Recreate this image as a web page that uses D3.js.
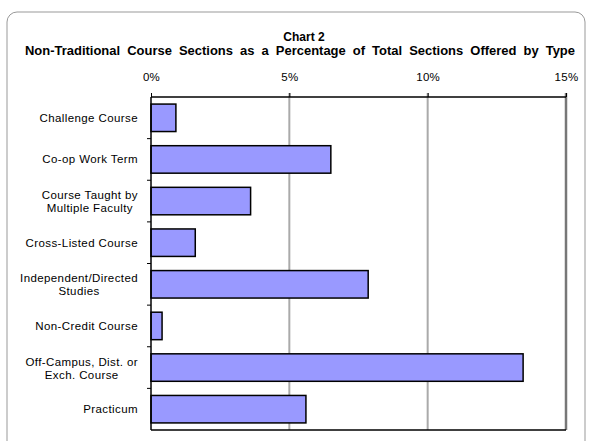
<!DOCTYPE html>
<html>
<head>
<meta charset="utf-8">
<script src="https://cdn.jsdelivr.net/npm/d3@7"></script>
<style>
	body { margin: 0; background: #fff; }
	text { font-family: "Liberation Sans", Arial, sans-serif; fill: #000; }
</style>
</head>
<body>
<div id="container"></div>
<script>
// data
var categories = [
	["Challenge Course"],
	["Co-op Work Term"],
	["Course Taught by", "Multiple Faculty"],
	["Cross-Listed Course"],
	["Independent/Directed", "Studies"],
	["Non-Credit Course"],
	["Off-Campus, Dist. or", "Exch. Course"],
	["Practicum"]
];
var percentValues = [0.9, 6.5, 3.6, 1.6, 7.85, 0.4, 13.45, 5.6];
var tickValues = [0, 5, 10, 15];
var titleLines = ["Chart 2", "Non-Traditional Course Sections as a Percentage of Total Sections Offered by Type"];

(function()
{
	var width = 590, height = 441;
	var left = 151, right = 566, top = 97, bottom = 430;
	var labelRight = 138;

	var svg = d3.select("#container").append("svg")
		.attr("width", width)
		.attr("height", height);

	// chart area border
	svg.append("rect")
		.attr("x", 7).attr("y", 12)
		.attr("width", 578).attr("height", 440)
		.attr("rx", 10).attr("ry", 10)
		.attr("fill", "none")
		.style("stroke", "#999")
		.style("stroke-width", "1px");

	var x = d3.scaleLinear().domain([0, 15]).range([left, right]);
	var y = d3.scaleBand()
		.domain(d3.range(categories.length))
		.range([top, bottom])
		.paddingInner(0.34)
		.paddingOuter(0.17);
	var band = (bottom - top) / categories.length;

	// titles
	svg.append("text")
		.attr("x", 304).attr("y", 41)
		.attr("text-anchor", "middle")
		.style("font-size", "12px").style("font-weight", "bold")
		.text(titleLines[0]);
	var sub = svg.append("text")
		.attr("x", 300).attr("y", 55)
		.attr("text-anchor", "middle")
		.style("font-size", "12px").style("font-weight", "bold")
		.text(titleLines[1]);
	// grow the font, then spread the words out to the width of the original line
	var gaps = titleLines[1].split(" ").length - 1;
	var natural = sub.node().getComputedTextLength();
	var subSize = 12 * 512 / natural;
	sub.style("font-size", subSize + "px");
	natural = sub.node().getComputedTextLength();
	sub.style("word-spacing", Math.max(0, (550 - natural) / gaps) + "px");

	// gridlines
	svg.selectAll(".grid")
		.data(tickValues.slice(1))
		.enter().append("line")
		.attr("x1", function(d) { return x(d); })
		.attr("x2", function(d) { return x(d); })
		.attr("y1", top - 4)
		.attr("y2", bottom)
		.style("stroke", function(d) { return d == 15 ? "#777" : "#aaa"; })
		.style("stroke-width", function(d) { return d == 15 ? "2.5px" : "2px"; });

	// top axis
	var axis = svg.append("g")
		.attr("transform", "translate(0," + top + ")")
		.call(d3.axisTop(x).tickValues(tickValues).tickSize(4).tickPadding(12)
			.tickFormat(function(d) { return d + "%"; }));
	axis.select(".domain").remove();
	axis.selectAll("text").style("font-size", "11.5px").style("letter-spacing", "0.3px")
		.style("font-family", "Liberation Sans, Arial, sans-serif");
	axis.selectAll("line").style("stroke", "#000");

	// plot frame
	svg.append("line").attr("x1", left).attr("x2", right).attr("y1", top).attr("y2", top)
		.style("stroke", "#000").style("stroke-width", "1.5px");
	svg.append("line").attr("x1", left).attr("x2", right).attr("y1", bottom).attr("y2", bottom)
		.style("stroke", "#000").style("stroke-width", "1.5px");

	// bars
	svg.selectAll(".bar")
		.data(percentValues)
		.enter().append("rect")
		.attr("x", x(0))
		.attr("y", function(d, i) { return y(i); })
		.attr("width", function(d) { return x(d) - x(0); })
		.attr("height", y.bandwidth())
		.attr("fill", "#9999ff")
		.style("stroke", "#000")
		.style("stroke-width", "1.5px");

	// left axis line and category ticks
	svg.append("line").attr("x1", left).attr("x2", left).attr("y1", top).attr("y2", bottom)
		.style("stroke", "#000").style("stroke-width", "1.5px");
	svg.selectAll(".ytick")
		.data(d3.range(1, categories.length))
		.enter().append("line")
		.attr("x1", left - 4).attr("x2", left)
		.attr("y1", function(d) { return top + d * band; })
		.attr("y2", function(d) { return top + d * band; })
		.style("stroke", "#000").style("stroke-width", "1px");

	// category labels: lines centred on each other, block right-aligned
	svg.selectAll(".cat")
		.data(categories)
		.enter().append("text")
		.attr("text-anchor", "middle")
		.style("font-size", "11.5px")
		.style("letter-spacing", "0.4px")
		.each(function(d, i)
		{
			var t = d3.select(this);
			var cy = y(i) + y.bandwidth() / 2;
			var start = d.length == 1 ? 4 : -2;
			var spans = d.map(function(line, k)
			{
				return t.append("tspan").attr("y", cy + start + k * 13).text(line);
			});
			var widest = d3.max(spans, function(s) { return s.node().getComputedTextLength(); });
			spans.forEach(function(s) { s.attr("x", labelRight - widest / 2); });
		});
})();
</script>
</body>
</html>
